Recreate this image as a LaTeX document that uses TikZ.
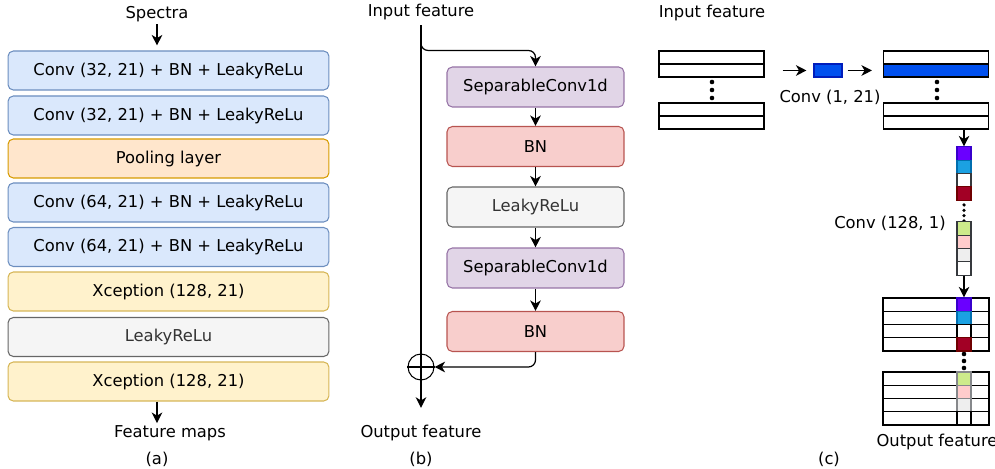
\documentclass[tikz,border=0pt]{standalone}
\usepackage{fontspec}
\setmainfont{DejaVu Sans}
\usepackage{tikz}
\usetikzlibrary{positioning,arrows.meta,calc}
\definecolor{convfill}{HTML}{DAE8FC}
\definecolor{convdraw}{HTML}{6C8EBF}
\definecolor{poolfill}{HTML}{FFE6CC}
\definecolor{pooldraw}{HTML}{D79B00}
\definecolor{xcepfill}{HTML}{FFF2CC}
\definecolor{xcepdraw}{HTML}{D6B656}
\definecolor{actfill}{HTML}{F5F5F5}
\definecolor{actdraw}{HTML}{666666}
\definecolor{acttext}{HTML}{333333}
\definecolor{sepfill}{HTML}{E1D5E7}
\definecolor{sepdraw}{HTML}{9673A6}
\definecolor{bnfill}{HTML}{F8CECC}
\definecolor{bndraw}{HTML}{B85450}
\definecolor{kernelblue}{HTML}{0050EF}
\definecolor{kerneldraw}{HTML}{001DBC}
\definecolor{chviolet}{HTML}{6A00FF}
\definecolor{chvioletd}{HTML}{3700CC}
\definecolor{chcyan}{HTML}{1BA1E2}
\definecolor{chcyand}{HTML}{006EAF}
\definecolor{chred}{HTML}{A20025}
\definecolor{chredd}{HTML}{6F0000}
\definecolor{chgreen}{HTML}{CDEB8B}
\definecolor{chpink}{HTML}{FFCCCC}
\definecolor{chgrey}{HTML}{EEEEEE}
\definecolor{chdraw}{HTML}{36393D}
\tikzset{
    layer/.style={rectangle, rounded corners=3pt, draw, minimum width=6.42cm, minimum height=0.78cm, inner sep=0pt},
    conv layer/.style={layer, fill=convfill, draw=convdraw},
    pool layer/.style={layer, fill=poolfill, draw=pooldraw},
    xcep layer/.style={layer, fill=xcepfill, draw=xcepdraw},
    act layer/.style={layer, fill=actfill, draw=actdraw, text=acttext},
    block/.style={layer, minimum width=3.54cm, minimum height=0.8cm},
    sep block/.style={block, fill=sepfill, draw=sepdraw},
    bn block/.style={block, fill=bnfill, draw=bndraw},
    act block/.style={block, fill=actfill, draw=actdraw, text=acttext},
    flow arrow/.style={-{Stealth[length=6pt, width=6pt, inset=1.8pt]}, line width=0.7pt},
    row/.style={rectangle, draw, minimum width=2.1cm, minimum height=0.26cm, inner sep=0pt},
    cell/.style={rectangle, draw, minimum width=0.28cm, minimum height=0.265cm, inner sep=0pt},
    caption/.style={inner sep=1pt}
}
\begin{document}
\begin{tikzpicture}[x=0.02cm, y=-0.02cm, line width=0.6pt, font=\fontsize{9.3pt}{11pt}\selectfont]
    \useasboundingbox (0,0) rectangle (995,469);

    % (a) Network
    \node[caption] (spectra) at (157,14) {Spectra};
    \node[conv layer] (c1) at (168.5,70.5) {Conv (32, 21) + BN + LeakyReLu};
    \node[conv layer] (c2) at (168.5,115.5) {Conv (32, 21) + BN + LeakyReLu};
    \node[pool layer] (pool) at (168.5,158.5) {Pooling layer};
    \node[conv layer] (c3) at (168.5,202.5) {Conv (64, 21) + BN + LeakyReLu};
    \node[conv layer] (c4) at (168.5,247) {Conv (64, 21) + BN + LeakyReLu};
    \node[xcep layer] (x1) at (168.5,291.5) {Xception (128, 21)};
    \node[act layer] (act) at (168.5,337) {LeakyReLu};
    \node[xcep layer] (x2) at (168.5,381.5) {Xception (128, 21)};
    \node[caption] (fmaps) at (170,433) {Feature maps};
    \node[caption] (capa) at (157,459) {(a)};
    \draw[flow arrow, shorten >=0.1cm] (spectra.south) -- (spectra.south |- c1.north);
    \draw[flow arrow] (spectra |- x2.south) -- (spectra |- fmaps.north);

    % (b) Xception block
    \node[caption] (infeat) at (421,12) {Input feature};
    \node[sep block] (sep1) at (535.5,87) {SeparableConv1d};
    \node[bn block] (bn1) at (535.5,146.5) {BN};
    \node[act block] (relu) at (535.5,207) {LeakyReLu};
    \node[sep block] (sep2) at (535.5,268) {SeparableConv1d};
    \node[bn block] (bn2) at (535.5,331.5) {BN};
    \node[circle, draw, minimum size=0.52cm, inner sep=0pt] (add) at (421,367) {};
    \node[caption] (outfeat) at (421,433) {Output feature};
    \node[caption] (capb) at (421,459) {(b)};
    \draw (add.west) -- (add.east);
    \draw (add.north) -- (add.south);
    \draw[line width=0.7pt, shorten <=0.06cm] (infeat.south) -- (add.north);
    \draw[flow arrow, rounded corners=4pt, shorten <=0.06cm] (infeat.south) |- ($(sep1.north)+(0,-16)$) -- (sep1.north);
    \draw[flow arrow] (sep1) -- (bn1);
    \draw[flow arrow] (bn1) -- (relu);
    \draw[flow arrow] (relu) -- (sep2);
    \draw[flow arrow] (sep2) -- (bn2);
    \draw[flow arrow, rounded corners=4pt] (bn2.south) |- (add.east);
    \draw[flow arrow, shorten >=0.3cm] (add.south) -- (outfeat.north);

    % (c) Separable convolution
    \node[caption] (cin) at (712,13) {Input feature};
    \node[row] (lt1) at (711.5,57.5) {};
    \node[row] (lt2) at (711.5,70.5) {};
    \node[row] (lb1) at (711.5,109.5) {};
    \node[row] (lb2) at (711.5,122.5) {};
    \fill (712,82) circle (1.3pt) (712,90) circle (1.3pt) (712,98) circle (1.3pt);

    \node[rectangle, fill=kernelblue, draw=kerneldraw, minimum width=0.56cm, minimum height=0.26cm, inner sep=0pt] (kernel) at (828,70.5) {};
    \node[caption] (dwlabel) at (830,97) {Conv (1, 21)};

    \node[row] (rt1) at (936,57.5) {};
    \node[row, fill=kernelblue] (rt2) at (936,70.5) {};
    \node[row] (rb1) at (936,109.5) {};
    \node[row] (rb2) at (936,122.5) {};
    \fill (937,82) circle (1.3pt) (937,90) circle (1.3pt) (937,98) circle (1.3pt);

    \draw[flow arrow, shorten <=0.36cm, shorten >=0.14cm] (lt2.east) -- (kernel.west);
    \draw[flow arrow, shorten <=0.1cm, shorten >=0.22cm] (kernel.east) -- (rt2.west);

    % Pointwise column
    \node[cell, fill=chviolet, draw=chvioletd] (p1) at (964,153.6) {};
    \node[cell, fill=chcyan, draw=chcyand] (p2) at (964,166.9) {};
    \node[cell, fill=white, draw=chdraw] (p3) at (964,180.2) {};
    \node[cell, fill=chred, draw=chredd] (p4) at (964,193.5) {};
    \fill (964,205) circle (1pt) (964,210.3) circle (1pt) (964,215.6) circle (1pt) (964,220.9) circle (1pt);
    \node[cell, fill=chgreen, draw=chdraw] (p5) at (964,228.6) {};
    \node[cell, fill=chpink, draw=chdraw] (p6) at (964,241.9) {};
    \node[cell, fill=chgrey, draw=chdraw] (p7) at (964,255.2) {};
    \node[cell, fill=white, draw=chdraw] (p8) at (964,268.5) {};
    \node[caption] (pwlabel) at (890,223) {Conv (128, 1)};
    \draw[flow arrow] (p1.north |- rb2.south) -- (p1.north);

    % Output stacks
    \node[row, minimum width=2.12cm, minimum height=0.265cm] (ot1) at (936,304.6) {};
    \node[row, minimum width=2.12cm, minimum height=0.265cm] (ot2) at (936,317.9) {};
    \node[row, minimum width=2.12cm, minimum height=0.265cm] (ot3) at (936,331.1) {};
    \node[row, minimum width=2.12cm, minimum height=0.265cm] (ot4) at (936,344.4) {};
    \node[cell, fill=chviolet, draw=chvioletd] (o1) at (964,304.6) {};
    \node[cell, fill=chcyan, draw=chcyand] (o2) at (964,317.9) {};
    \node[cell, fill=white] (o3) at (964,331.1) {};
    \node[cell, fill=chred, draw=chredd] (o4) at (964,344.4) {};
    \fill (964,354) circle (1.3pt) (964,361) circle (1.3pt) (964,368) circle (1.3pt);
    \node[row, minimum width=2.12cm, minimum height=0.265cm] (ob1) at (936,378.6) {};
    \node[row, minimum width=2.12cm, minimum height=0.265cm] (ob2) at (936,391.9) {};
    \node[row, minimum width=2.12cm, minimum height=0.265cm] (ob3) at (936,405.1) {};
    \node[row, minimum width=2.12cm, minimum height=0.265cm] (ob4) at (936,418.4) {};
    \node[cell, fill=chgreen, draw=chdraw!60] (o5) at (964,378.6) {};
    \node[cell, fill=chpink, draw=chdraw!60] (o6) at (964,391.9) {};
    \node[cell, fill=chgrey, draw=chdraw!60] (o7) at (964,405.1) {};
    \node[cell, fill=white] (o8) at (964,418.4) {};
    \draw[flow arrow] (p8.south) -- (o1.north);

    \node[caption] (cout) at (937,442) {Output feature};
    \node[caption] (capc) at (829,459) {(c)};
\end{tikzpicture}
\end{document}
